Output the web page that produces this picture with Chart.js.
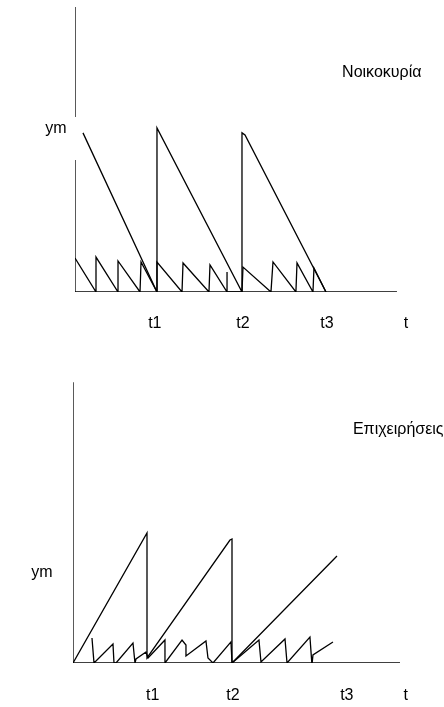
<!DOCTYPE html>
<html>
<head>
<meta charset="utf-8">
<script src="https://cdn.jsdelivr.net/npm/chart.js@4/dist/chart.umd.min.js"></script>
<style>
  body { margin: 0; background: #fff; overflow: hidden; }
  canvas { display: block; }
</style>
</head>
<body>
<canvas id="houseChart" width="444" height="350"></canvas>
<canvas id="firmChart" width="444" height="357"></canvas>
<script>
// ---- households (top) ----
const houseTickLabels = ['t1', 't2', 't3', 't'];
const houseTickPos = [9.5, 20.0, 30.0, 39.4];

// big balance: jumps up at each payday, then spent down to zero
const houseBigX = [0.95, 9.76, 9.76, 19.88, 19.88, 20.24, 29.88];
const houseBigY = [97, 0, 100, 0, 97, 95.7, 0];

// small cash holdings
const houseSmallX = [0, 2.5, 2.5, 5.12, 5.12, 7.74, 7.86, 9.76, 9.76, 12.74, 12.86, 15.95, 16.07, 18.1, 18.1, 18.1, 19.88, 20.0, 23.33, 23.57, 26.3, 26.43, 28.33, 28.45, 29.88];
const houseSmallY = [20.7, 0, 21.3, 0, 18.9, 0, 18.3, 0, 18.3, 0, 17.7, 0, 16.5, 0, 12.2, 0, 0, 15.2, 0, 18.3, 0, 17.7, 0, 14.6, 0];

// broken vertical axis
const houseAxisY = [0, 80.5, null, 106.7, 173.8];
const houseAxisEnd = 38.33;

// ---- firms (bottom) ----
const firmTickLabels = ['t1', 't2', 't3', 't'];
const firmTickPos = [9.5, 19.05, 32.6, 39.6];

const firmBigX = [0, 8.81, 8.81, 18.69, 18.93, 18.93, 31.43];
const firmBigY = [0, 100, 3.85, 94.6, 95.4, 0, 82.3];

const firmSmallX = [2.26, 2.5, 4.76, 4.88, 5.12, 7.14, 7.38, 7.5, 8.69, 8.93, 10.95, 10.95, 12.98, 13.45, 13.45, 15.83, 16.07, 16.67, 18.81, 18.93, 22.14, 22.38, 25.24, 25.48, 28.21, 28.45, 28.57, 30.95];
const firmSmallY = [19.2, 0, 14.6, 0, 0, 15.4, 0, 3.1, 8.5, 3.85, 17.7, 0, 17.7, 13.8, 5.4, 16.9, 3.85, 0, 16.2, 0, 17.7, 0.8, 18.5, 0, 20, -1.5, 6.2, 16.2];

const firmAxisTop = 216;
const firmAxisEnd = 38.93;

const FONT = { family: "'Liberation Sans', Arial, sans-serif", size: 16 };

function pts(xs, ys) {
  return xs.map((x, i) => ({ x: x, y: ys[i] }));
}

function lineSet(data) {
  return {
    data: data,
    showLine: true,
    borderColor: '#000',
    borderWidth: 1.3,
    pointRadius: 0,
    tension: 0,
    spanGaps: false,
  };
}

// free text placed in data units
const notesPlugin = {
  id: 'notes',
  afterDatasetsDraw(chart, args, opts) {
    const ctx = chart.ctx;
    const xs = chart.scales.x, ys = chart.scales.y;
    ctx.save();
    ctx.fillStyle = '#000';
    ctx.font = FONT.size + 'px ' + FONT.family;
    ctx.textBaseline = 'middle';
    (opts.items || []).forEach((n) => {
      ctx.textAlign = n.align || 'center';
      ctx.fillText(n.text, xs.getPixelForValue(n.x), ys.getPixelForValue(n.y));
    });
    ctx.restore();
  }
};

function makeChart(el, cfg) {
  return new Chart(el, {
    type: 'scatter',
    data: { datasets: cfg.datasets },
    options: {
      responsive: false,
      animation: false,
      events: [],
      layout: { padding: { left: cfg.left, right: 0, top: 0, bottom: 0 } },
      scales: {
        x: {
          type: 'linear',
          min: 0,
          max: cfg.xMax,
          grid: { display: false, drawTicks: false },
          border: { display: false },
          afterBuildTicks: (s) => { s.ticks = cfg.tickPos.map((v) => ({ value: v })); },
          afterFit: (s) => { s.height = cfg.axisHeight; },
          ticks: {
            autoSkip: false,
            maxRotation: 0,
            padding: cfg.tickPad,
            color: '#000',
            font: FONT,
            callback: (v, i) => cfg.tickLabels[i],
          },
        },
        y: { display: false, min: 0, max: cfg.yMax },
      },
      plugins: {
        legend: { display: false },
        tooltip: { enabled: false },
        notes: { items: cfg.notes },
      },
    },
    plugins: [notesPlugin],
  });
}

makeChart(document.getElementById('houseChart'), {
  left: 75,
  xMax: 43.93,
  yMax: 178,
  axisHeight: 58,
  tickPad: 22,
  tickPos: houseTickPos,
  tickLabels: houseTickLabels,
  datasets: [
    lineSet(pts([0, houseAxisEnd], [0, 0])),
    lineSet(houseAxisY.map((y) => ({ x: 0, y: y }))),
    lineSet(pts(houseBigX, houseBigY)),
    lineSet(pts(houseSmallX, houseSmallY)),
  ],
  notes: [
    { text: 'ym', x: -2.26, y: 99.4 },
    { text: 'Νοικοκυρία', x: 31.8, y: 134, align: 'left' },
  ],
});

makeChart(document.getElementById('firmChart'), {
  left: 73,
  xMax: 44.17,
  yMax: 240.8,
  axisHeight: 44,
  tickPad: 23,
  tickPos: firmTickPos,
  tickLabels: firmTickLabels,
  datasets: [
    lineSet(pts([0, firmAxisEnd], [0, 0])),
    lineSet(pts([0, 0], [0, firmAxisTop])),
    lineSet(pts(firmBigX, firmBigY)),
    lineSet(pts(firmSmallX, firmSmallY)),
  ],
  notes: [
    { text: 'ym', x: -3.7, y: 69.2 },
    { text: 'Επιχειρήσεις', x: 33.33, y: 179.2, align: 'left' },
  ],
});
</script>
</body>
</html>
